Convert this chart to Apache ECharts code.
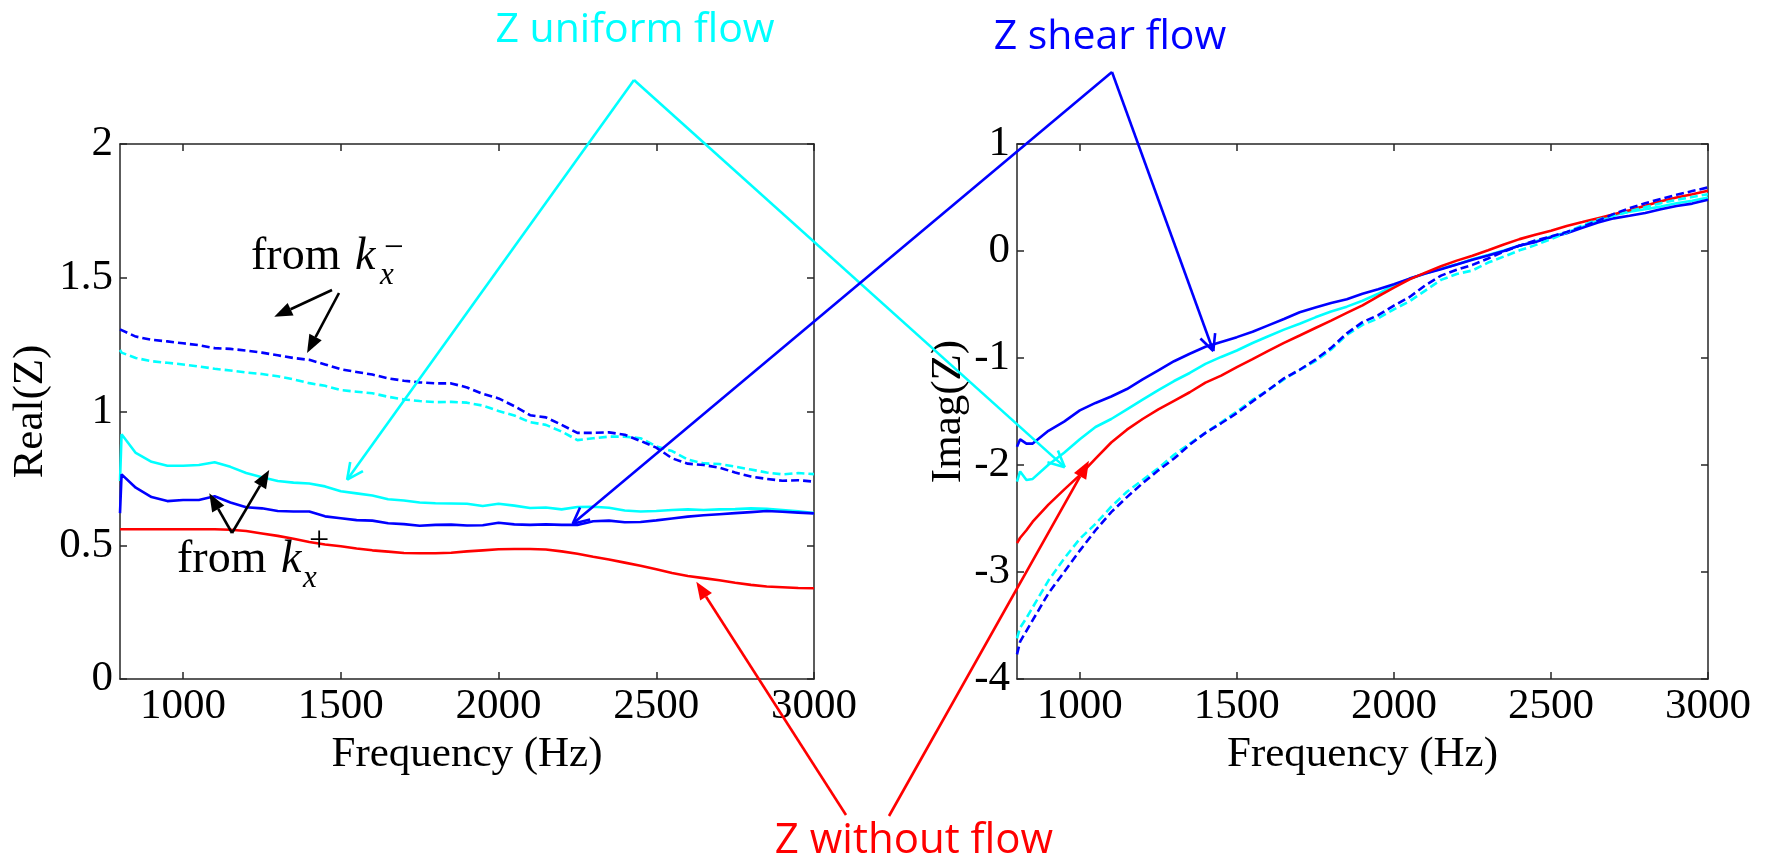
<!DOCTYPE html>
<html><head><meta charset="utf-8">
<script src="https://cdn.jsdelivr.net/npm/echarts@6/dist/echarts.min.js"></script>
<style>html,body{margin:0;padding:0;background:#fff}#c{width:1766px;height:860px}</style>
</head><body><div id="c"></div>
<script>
// ---------- data ----------
const freqRe = [800,805,850,900,950,1000,1050,1100,1150,1200,1250,1300,1350,1400,1450,1500,1550,1600,1650,1700,1750,1800,1850,1900,1950,2000,2050,2100,2150,2200,2250,2300,2350,2400,2450,2500,2550,2600,2650,2700,2750,2800,2850,2900,2950,3000];
const reShearKm   = [1.307,1.30,1.28,1.268,1.262,1.255,1.248,1.237,1.234,1.228,1.22,1.21,1.2,1.193,1.176,1.158,1.148,1.138,1.124,1.115,1.109,1.105,1.105,1.09,1.066,1.049,1.02,0.986,0.978,0.95,0.92,0.92,0.922,0.913,0.89,0.865,0.825,0.805,0.8,0.79,0.772,0.757,0.748,0.741,0.743,0.738];
const reUniformKm = [1.23,1.22,1.2,1.188,1.182,1.176,1.168,1.16,1.153,1.146,1.14,1.132,1.12,1.106,1.096,1.08,1.074,1.068,1.055,1.045,1.039,1.035,1.036,1.033,1.022,1.002,0.985,0.96,0.95,0.925,0.893,0.9,0.906,0.906,0.9,0.87,0.852,0.82,0.806,0.804,0.794,0.783,0.772,0.765,0.77,0.766];
const reUniformKp = [0.74,0.915,0.845,0.812,0.797,0.797,0.8,0.81,0.793,0.77,0.754,0.74,0.734,0.731,0.72,0.702,0.694,0.686,0.672,0.667,0.66,0.657,0.656,0.655,0.647,0.655,0.648,0.639,0.641,0.634,0.643,0.644,0.64,0.63,0.626,0.628,0.632,0.634,0.632,0.634,0.635,0.638,0.636,0.632,0.627,0.62];
const reShearKp   = [0.62,0.765,0.715,0.68,0.665,0.669,0.669,0.683,0.66,0.642,0.638,0.628,0.626,0.626,0.608,0.601,0.594,0.592,0.582,0.579,0.573,0.576,0.577,0.574,0.575,0.584,0.578,0.576,0.578,0.576,0.576,0.59,0.592,0.586,0.587,0.593,0.6,0.607,0.612,0.616,0.62,0.624,0.628,0.625,0.622,0.619];
const reNoFlow    = [0.56,0.56,0.56,0.56,0.56,0.56,0.56,0.56,0.558,0.553,0.544,0.535,0.524,0.512,0.503,0.496,0.488,0.481,0.476,0.471,0.47,0.47,0.472,0.477,0.481,0.485,0.486,0.486,0.484,0.477,0.468,0.457,0.447,0.435,0.423,0.41,0.396,0.385,0.377,0.369,0.36,0.352,0.346,0.343,0.34,0.339];

const freqIm = [800,810,830,850,900,950,1000,1050,1100,1150,1200,1250,1300,1350,1400,1450,1500,1550,1600,1650,1700,1750,1800,1850,1900,1950,2000,2050,2100,2150,2200,2250,2300,2350,2400,2450,2500,2550,2600,2650,2700,2750,2800,2850,2900,2950,3000];
const imShearKp   = [-1.83,-1.76,-1.80,-1.80,-1.68,-1.595,-1.49,-1.42,-1.36,-1.29,-1.2,-1.115,-1.03,-0.96,-0.895,-0.85,-0.805,-0.755,-0.695,-0.635,-0.572,-0.527,-0.485,-0.45,-0.40,-0.358,-0.31,-0.258,-0.21,-0.17,-0.127,-0.082,-0.043,0.0,0.052,0.083,0.128,0.166,0.216,0.266,0.305,0.33,0.356,0.39,0.42,0.443,0.478];
const imUniformKp = [-2.156,-2.06,-2.14,-2.13,-1.997,-1.885,-1.76,-1.645,-1.57,-1.48,-1.39,-1.30,-1.215,-1.14,-1.055,-0.99,-0.93,-0.86,-0.797,-0.735,-0.68,-0.62,-0.566,-0.52,-0.465,-0.40,-0.32,-0.26,-0.21,-0.165,-0.125,-0.078,-0.037,0.004,0.05,0.088,0.136,0.172,0.225,0.284,0.335,0.367,0.39,0.415,0.446,0.47,0.50];
const imNoFlow    = [-2.73,-2.68,-2.61,-2.53,-2.37,-2.23,-2.095,-1.94,-1.79,-1.67,-1.57,-1.48,-1.40,-1.32,-1.23,-1.165,-1.085,-1.01,-0.933,-0.858,-0.79,-0.72,-0.65,-0.578,-0.508,-0.423,-0.343,-0.265,-0.202,-0.143,-0.09,-0.045,0.007,0.06,0.111,0.152,0.19,0.234,0.27,0.307,0.343,0.381,0.424,0.465,0.5,0.53,0.563];
const imShearKm   = [-3.77,-3.65,-3.55,-3.45,-3.20,-3.00,-2.80,-2.61,-2.44,-2.30,-2.17,-2.05,-1.94,-1.81,-1.70,-1.61,-1.515,-1.405,-1.30,-1.19,-1.11,-1.015,-0.905,-0.77,-0.665,-0.6,-0.51,-0.43,-0.32,-0.23,-0.175,-0.13,-0.07,-0.005,0.05,0.098,0.135,0.178,0.225,0.284,0.347,0.40,0.447,0.486,0.525,0.56,0.594];
const imUniformKm = [-3.62,-3.52,-3.43,-3.33,-3.08,-2.875,-2.69,-2.55,-2.39,-2.25,-2.14,-2.03,-1.905,-1.80,-1.70,-1.60,-1.50,-1.39,-1.30,-1.20,-1.11,-1.03,-0.92,-0.785,-0.69,-0.63,-0.545,-0.47,-0.37,-0.27,-0.215,-0.182,-0.108,-0.052,0.006,0.055,0.11,0.172,0.24,0.295,0.33,0.37,0.41,0.447,0.478,0.505,0.531];

const xTickVals  = [1000,1500,2000,2500,3000];
const reTickVals = [0,0.5,1,1.5,2];
const imTickVals = [-4,-3,-2,-1,0,1];

// ---------- chart ----------
const chart = echarts.init(document.getElementById('c'), null, {renderer:'canvas'});
const serif = '"Liberation Serif","Times New Roman",serif';
const sans = '"Open Sans","Noto Sans",sans-serif';
const axisColor = '#262626';
const BLUE = '#0000ff', CYAN = '#00ffff', RED = '#ff0000';
const FS = 43;
const plain = v => String(v);

function xAx(grid, pos){
  return {type:'value', gridIndex:grid, position:pos, min:800, max:3000,
    axisLine:{show:true,onZero:false,lineStyle:{color:axisColor,width:1.5}},
    axisTick:{show:true,inside:true,length:7,customValues:xTickVals,lineStyle:{color:axisColor,width:1.5}},
    axisLabel:{show:pos==='bottom',customValues:xTickVals,formatter:plain,fontFamily:serif,fontSize:FS,color:'#000',margin:6},
    splitLine:{show:false},
    name: pos==='bottom' ? 'Frequency (Hz)' : '', nameLocation:'middle', nameGap:48,
    nameTextStyle:{fontFamily:serif,fontSize:FS,color:'#000'}};
}
function yAx(grid, pos, min, max, ticks, name, gap){
  return {type:'value', gridIndex:grid, position:pos, min:min, max:max,
    axisLine:{show:true,onZero:false,lineStyle:{color:axisColor,width:1.5}},
    axisTick:{show:true,inside:true,length:7,customValues:ticks,lineStyle:{color:axisColor,width:1.5}},
    axisLabel:{show:pos==='left',customValues:ticks,formatter:plain,fontFamily:serif,fontSize:FS,color:'#000',margin:7},
    splitLine:{show:false},
    name: pos==='left' ? name : '', nameLocation:'middle', nameGap:gap,
    nameTextStyle:{fontFamily:serif,fontSize:FS,color:'#000'}};
}
function ser(xi, yi, fr, vals, color, dashed){
  return {type:'line', xAxisIndex:xi, yAxisIndex:yi, data: fr.map((f,i)=>[f, vals[i]]),
    symbol:'none', silent:true, clip:true,
    lineStyle:{color:color, width:2.6, type: dashed ? [8,4] : 'solid'}};
}

chart.setOption({
  animation:false,
  backgroundColor:'#ffffff',
  grid:[{left:120, top:144, width:694, height:535}, {left:1017, top:144, width:691, height:535}],
  xAxis:[xAx(0,'bottom'), xAx(0,'top'), xAx(1,'bottom'), xAx(1,'top')],
  yAxis:[yAx(0,'left',0,2,reTickVals,'Real(Z)',68), yAx(0,'right',0,2,reTickVals,'',0),
         yAx(1,'left',-4,1,imTickVals,'Imag(Z)',47), yAx(1,'right',-4,1,imTickVals,'',0)],
  series:[
    ser(0,0,freqRe,reNoFlow,RED,false),
    ser(0,0,freqRe,reUniformKp,CYAN,false),
    ser(0,0,freqRe,reShearKp,BLUE,false),
    ser(0,0,freqRe,reUniformKm,CYAN,true),
    ser(0,0,freqRe,reShearKm,BLUE,true),
    ser(2,2,freqIm,imUniformKp,CYAN,false),
    ser(2,2,freqIm,imShearKp,BLUE,false),
    ser(2,2,freqIm,imNoFlow,RED,false),
    ser(2,2,freqIm,imUniformKm,CYAN,true),
    ser(2,2,freqIm,imShearKm,BLUE,true)
  ]
});

// ---------- annotations ----------
const P0 = (f,v)=>chart.convertToPixel({gridIndex:0},[f,v]);
const P1 = (f,v)=>chart.convertToPixel({gridIndex:1},[f,v]);
function ln(a,b,color,w){ return {type:'line', z:100, silent:true, shape:{x1:a[0],y1:a[1],x2:b[0],y2:b[1]}, style:{stroke:color,lineWidth:w}}; }
function openArrow(s,t,color,w){
  const L=18, ang=0.45;
  const dx=t[0]-s[0], dy=t[1]-s[1], len=Math.hypot(dx,dy), ux=dx/len, uy=dy/len;
  const out=[ln(s,t,color,w)];
  [ang,-ang].forEach(a=>{
    const c=Math.cos(a), sn=Math.sin(a);
    const bx=-(ux*c-uy*sn), by=-(ux*sn+uy*c);
    out.push(ln(t,[t[0]+bx*L,t[1]+by*L],color,w));
  });
  return out;
}
function filledArrow(s,t,color,w,L,W){
  const dx=t[0]-s[0], dy=t[1]-s[1], len=Math.hypot(dx,dy), ux=dx/len, uy=dy/len;
  const b=[t[0]-ux*L, t[1]-uy*L], nx=-uy, ny=ux;
  return [ln(s,b,color,w),
    {type:'polygon', z:100, silent:true, shape:{points:[t,[b[0]+nx*W,b[1]+ny*W],[b[0]-nx*W,b[1]-ny*W]]}, style:{fill:color}}];
}
function txt(x,y,text,font,color,align){
  return {type:'text', z:101, silent:true, x:x, y:y, style:{text:text, font:font, fill:color, align:align||'left', verticalAlign:'middle'}};
}

const cyanApex=[634,80], blueApex=[1112,72], redStartA=[846,815], redStartB=[889,816];
const g=[];
g.push(...openArrow(cyanApex, P0(1520,0.745), CYAN, 2.6));
g.push(...openArrow(cyanApex, P1(952,-2.02), CYAN, 2.6));
g.push(...openArrow(blueApex, P0(2235,0.58), BLUE, 2.6));
g.push(...openArrow(blueApex, P1(1425,-0.935), BLUE, 2.6));
g.push(...filledArrow(redStartA, P0(2627,0.364), RED, 2.6, 18, 7));
g.push(...filledArrow(redStartB, P1(1029,-1.96), RED, 2.6, 18, 7));
g.push(...filledArrow([332,290], P0(1289,1.354), '#000', 2.6, 18, 7));
g.push(...filledArrow([339,293], P0(1393,1.219), '#000', 2.6, 18, 7));
g.push(...filledArrow([232,533], P0(1083,0.694), '#000', 2.6, 18, 7));
g.push(...filledArrow([232,533], P0(1273,0.781), '#000', 2.6, 18, 7));

g.push(txt(635,30,'Z uniform flow','41px '+sans,CYAN,'center'));
g.push(txt(1110,37,'Z shear flow','41px '+sans,BLUE,'center'));
g.push(txt(914,841,'Z without flow','42px '+sans,RED,'center'));

// "from k_x^-"
g.push(txt(251,257,'from','46px '+serif,'#000'));
g.push(txt(355,257,'k','italic 46px '+serif,'#000'));
g.push(txt(380,276,'x','italic 31px '+serif,'#000'));
g.push(txt(384,249,'\u2212','35px '+serif,'#000'));
// "from k_x^+"
g.push(txt(177,560,'from','46px '+serif,'#000'));
g.push(txt(281,560,'k','italic 46px '+serif,'#000'));
g.push(txt(303,579,'x','italic 31px '+serif,'#000'));
g.push(txt(309,542,'+','36px '+serif,'#000'));

chart.setOption({graphic:g});
</script></body></html>
